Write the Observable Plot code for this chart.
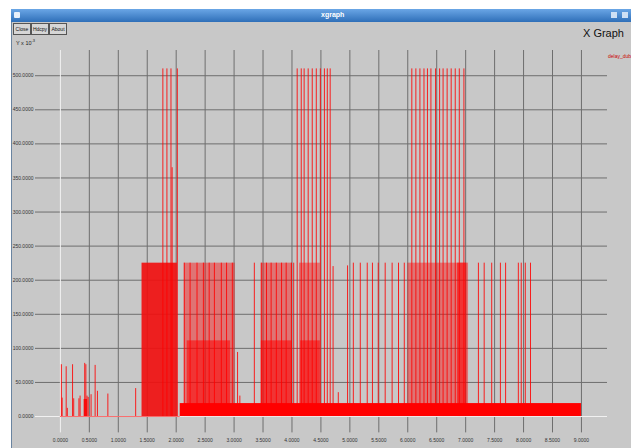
<!DOCTYPE html>
<html><head><meta charset="utf-8">
<script src="https://cdn.jsdelivr.net/npm/d3@7"></script>
<script src="https://cdn.jsdelivr.net/npm/@observablehq/plot@0.6"></script>
<style>
html,body{margin:0;padding:0;background:#fff;width:631px;height:448px;overflow:hidden;font-family:"Liberation Sans",sans-serif;}
#win{position:absolute;left:11px;top:9px;width:620px;height:439px;background:#c8c8c8;border-left:1px solid #6a84a0;}
#bar{position:absolute;left:11px;top:9px;width:620px;height:13px;background:linear-gradient(#6aa6e6,#2f6fb8);}
#bar .t{position:absolute;left:310px;top:2px;font-size:7px;color:#fff;font-weight:bold;}
#bar .ic{position:absolute;left:3px;top:3px;width:6px;height:6px;background:#e8f0fa;border-radius:1px;}
#bar .rb{position:absolute;top:3px;width:6px;height:6px;background:#cfe0f4;}
.btn{position:absolute;top:23px;height:10px;border:1px solid #555;background:#d6d6d6;font-size:5px;line-height:10px;text-align:center;color:#111;}
#chart svg{position:absolute;left:0;top:0;background:transparent !important;overflow:visible;}
.lbl{position:absolute;white-space:nowrap;}
</style></head>
<body>
<div id="win"></div>
<div id="bar"><div class="ic"></div><div class="t">xgraph</div><div class="rb" style="left:600px"></div><div class="rb" style="left:611px"></div></div>
<div class="btn" style="left:13px;width:16px">Close</div>
<div class="btn" style="left:31px;width:16px">Hdcpy</div>
<div class="btn" style="left:49px;width:16px">About</div>
<div class="lbl" style="left:16px;top:38px;font-size:5.5px;color:#222">Y x 10<sup style="font-size:4px">-3</sup></div>
<div class="lbl" style="left:583px;top:27px;font-size:11px;color:#111">X Graph</div>
<div class="lbl" style="left:608px;top:53px;font-size:5px;color:#c00">delay_dub</div>
<div id="chart"></div>
<script>
// axis ticks
const xTicks = [0, 0.5, 1, 1.5, 2, 2.5, 3, 3.5, 4, 4.5, 5, 5.5, 6, 6.5, 7, 7.5, 8, 8.5, 9];
const xTickLabels = ["0.0000","0.5000","1.0000","1.5000","2.0000","2.5000","3.0000","3.5000","4.0000","4.5000","5.0000","5.5000","6.0000","6.5000","7.0000","7.5000","8.0000","8.5000","9.0000"];
const yTicks = [0, 50, 100, 150, 200, 250, 300, 350, 400, 450, 500];
const yTickLabels = ["0.0000","50.0000","100.0000","150.0000","200.0000","250.0000","300.0000","350.0000","400.0000","450.0000","500.0000"];

// dense regions of delay samples (time range, top delay, density kind)
const denseStart = [0.41, 1.41, 2.14, 2.19, 3.47, 3.47, 4.13, 4.15, 6.00, 6.86];
const denseEnd   = [0.47, 2.02, 3.02, 2.94, 4.01, 4.01, 4.49, 4.49, 7.05, 7.02];
const denseTop   = [25, 225, 225, 111, 225, 111, 225, 111, 225, 225];
const denseKind  = ["solid","solid","light","mid","light","mid","light","mid","light","mid"];

// continuous low-delay band
const bandStart = [2.07];
const bandEnd = [9.0];
const bandTop = [19];

// individual delay spikes (time s, delay x10^-3)
const spikeX = [0.017,0.03,0.10,0.12,0.21,0.23,0.32,0.34,0.42,0.44,0.46,0.48,0.53,0.60,0.64,0.82,1.30,
  1.77,1.84,1.91,1.93,2.02,
  2.14,2.24,2.36,2.47,2.57,2.66,2.78,2.87,2.97,3.06,3.10,3.35,
  3.47,3.56,3.64,3.73,3.82,3.90,3.99,4.03,
  4.09,4.16,4.21,4.28,4.35,4.42,4.49,4.56,4.61,4.66,4.71,4.80,4.96,
  5.06,5.18,5.30,5.39,5.49,5.61,5.73,5.84,5.94,
  6.07,6.14,6.21,6.28,6.34,6.40,6.48,6.55,6.61,6.68,6.75,6.82,6.89,6.97,
  7.22,7.32,7.45,7.60,7.69,7.91,7.96,8.03,8.12];
const spikeY = [76,27,73,12,76,26,26,30,78,76,30,28,32,75,37,33,41,
  510,510,510,365,510,
  225,225,225,225,225,225,225,225,225,94,30,225,
  225,225,225,225,225,225,225,225,
  510,510,510,510,510,510,510,510,510,510,220,35,221,
  225,225,225,225,225,225,225,225,225,
  510,510,510,510,510,510,510,510,510,510,510,510,510,510,
  225,225,225,225,225,225,225,225,225];

const dense = denseStart.map((s, i) => ({x1: s, x2: denseEnd[i], top: denseTop[i], kind: denseKind[i]}));
const band = bandStart.map((s, i) => ({x1: s, x2: bandEnd[i], top: bandTop[i]}));
const spikes = spikeX.map((x, i) => ({x, y: spikeY[i]}));

const XL = -0.43, XR = 9.45, YB = -24;

const chart = Plot.plot({
  width: 631, height: 448,
  marginLeft: 35, marginRight: 24, marginTop: 50, marginBottom: 18,
  style: {fontFamily: "Liberation Sans, sans-serif"},
  x: {domain: [XL, XR], axis: null},
  y: {domain: [-20.5, 537], axis: null},
  marks: [
    Plot.ruleY(yTicks.filter(d => d !== 0), {y: d => d, x1: () => XL, x2: () => XR, stroke: "#6e6e6e", strokeWidth: 1}),
    Plot.ruleX(xTicks.filter(d => d !== 0), {x: d => d, y1: () => YB, y2: () => 537, stroke: "#6e6e6e", strokeWidth: 1}),
    Plot.ruleX([0], {x: d => d, y1: () => YB, y2: () => 537, stroke: "#f2f2f2", strokeWidth: 1}),
    Plot.ruleY([0], {y: d => d, x1: () => XL, x2: () => XR, stroke: "#f2f2f2", strokeWidth: 1}),
    Plot.ruleY([0], {y: d => d, x1: () => 0, x2: () => 2.07, stroke: "#ff0000", strokeOpacity: 0.55}),
    Plot.rect(dense.filter(d => d.kind === "light"), {x1: "x1", x2: "x2", y1: () => 0, y2: "top", fill: "#ff0000", fillOpacity: 0.42}),
    Plot.rect(dense.filter(d => d.kind === "mid"), {x1: "x1", x2: "x2", y1: () => 0, y2: "top", fill: "#ff0000", fillOpacity: 0.55}),
    Plot.rect(dense.filter(d => d.kind === "solid"), {x1: "x1", x2: "x2", y1: () => 0, y2: "top", fill: "#f01010", fillOpacity: 0.92}),
    Plot.ruleX(spikes, {x: "x", y1: () => 0, y2: "y", stroke: "#ff0000", strokeWidth: 1, strokeOpacity: 0.85}),
    Plot.rect(band, {x1: "x1", x2: "x2", y1: () => 0, y2: "top", fill: "#ff0000"}),
    Plot.text(yTicks, {x: () => XL, y: d => d, text: (d, i) => yTickLabels[i], textAnchor: "end", dx: -2, fontSize: 5, fill: "#333"}),
    Plot.text(xTicks, {x: d => d, y: () => YB, dy: 8, text: (d, i) => xTickLabels[i], fontSize: 5, fill: "#333"})
  ]
});
document.getElementById("chart").appendChild(chart);
</script>
</body></html>
